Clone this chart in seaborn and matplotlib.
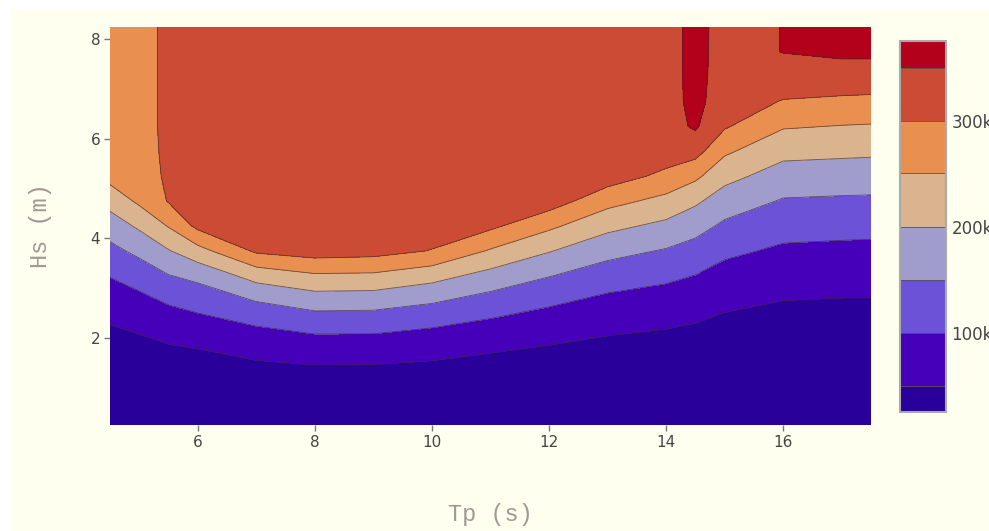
import numpy as np
import pandas as pd
import matplotlib
matplotlib.use("Agg")
import matplotlib.pyplot as plt
import seaborn as sns
from matplotlib.colors import ListedColormap, Normalize
from matplotlib.cm import ScalarMappable
from matplotlib.patches import Rectangle

# ---------------- data ----------------
tp = [4.5, 5.0, 5.5, 6, 7, 8, 9, 10, 11, 12, 13, 14, 14.5, 15, 16, 17, 17.5]
hs = [0.25, 0.75, 1.25, 1.75, 2.25, 2.75, 3.25, 3.75, 4.25,
      4.75, 5.25, 5.75, 6.25, 6.75, 7.25, 7.75, 8.25]

# power (thousands), one list per Tp column, ordered by hs
col_4_5 = [1, 5, 15, 30, 49, 73, 102, 136, 174, 218, 266, 285, 287, 288, 288, 289, 290]
col_5_0 = [1, 6, 18, 35, 58, 87, 121, 162, 208, 259, 291, 294, 295, 295, 295, 295, 295]
col_5_5 = [1, 8, 22, 43, 71, 106, 148, 197, 253, 303, 303, 303, 303, 303, 303, 303, 303]
col_6 = [1, 9, 24, 48, 82, 118, 163, 232, 312, 325, 328, 330, 330, 330, 330, 330, 330]
col_7 = [1, 11, 32, 62, 101, 152, 219, 308, 328, 331, 332, 333, 333, 333, 333, 333, 333]
col_8 = [1, 13, 36, 70, 116, 174, 243, 323, 333, 335, 335, 335, 335, 335, 335, 335, 335]
col_9 = [1, 13, 35, 70, 115, 172, 241, 318, 332, 334, 334, 334, 334, 334, 334, 334, 334]
col_10 = [1, 12, 32, 63, 104, 156, 218, 298, 325, 332, 332, 332, 332, 332, 332, 332, 332]
col_11 = [1, 10, 27, 53, 88, 131, 183, 245, 310, 328, 332, 332, 332, 332, 332, 332, 332]
col_12 = [1, 8, 22, 44, 73, 109, 152, 203, 260, 325, 332, 333, 333, 333, 333, 333, 333]
col_13 = [1, 7, 18, 36, 60, 89, 125, 166, 213, 266, 325, 333, 333, 333, 333, 333, 333]
col_14 = [1, 6, 16, 32, 53, 79, 110, 146, 188, 235, 287, 328, 332, 333, 333, 333, 333]
col_14_5 = [1, 5, 14, 28, 48, 72, 99, 131, 168, 208, 260, 318, 356, 362, 363, 363, 363]
col_15 = [0, 4, 12, 24, 40, 59, 82, 110, 141, 176, 215, 258, 305, 328, 332, 334, 335]
col_16 = [0, 4, 10, 20, 33, 50, 69, 92, 118, 146, 178, 214, 254, 297, 330, 351, 351]
col_17 = [0, 4, 10, 19, 32, 48, 67, 89, 115, 143, 175, 210, 248, 289, 335, 356, 358]
col_17_5 = [0, 4, 10, 19, 32, 48, 66, 88, 114, 142, 174, 208, 246, 286, 335, 356, 358]

levels = [50, 100, 150, 200, 250, 300, 350]
cbar_ticks = [100, 200, 300]
band_colors = ["#2a009b", "#4600ba", "#6b52d6", "#a09ccb", "#d9b48e",
               "#e98f50", "#cb4b35", "#b3001b"]

columns = [col_4_5, col_5_0, col_5_5, col_6, col_7, col_8, col_9, col_10, col_11,
           col_12, col_13, col_14, col_14_5, col_15, col_16, col_17, col_17_5]
df = pd.DataFrame(np.array(columns).T, index=hs, columns=tp)

# ---------------- figure ----------------
sns.set_theme(style="white")
bg = "#fffff0"
fig = plt.figure(figsize=(9.89, 5.31), dpi=100, facecolor=bg)
fig.patches.append(Rectangle((0, 1 - 9 / 531), 1, 9 / 531, transform=fig.transFigure,
                             facecolor="white", edgecolor="none", zorder=-1))
fig.patches.append(Rectangle((0, 0), 11 / 989, 1, transform=fig.transFigure,
                             facecolor="white", edgecolor="none", zorder=-1))

ax = fig.add_axes([110 / 989, 1 - 425 / 531, 761 / 989, 398 / 531])
ax.set_facecolor(bg)

X, Y = np.meshgrid(df.columns.values.astype(float), df.index.values.astype(float))
Z = df.values.astype(float)
fill_levels = [-1e6] + levels + [1e6]
ax.contourf(X, Y, Z, levels=fill_levels, colors=band_colors)
ax.contour(X, Y, Z, levels=levels, colors="#3a2a2a", linewidths=0.6, alpha=0.7)

ax.set_xlim(4.5, 17.5)
ax.set_ylim(0.25, 8.25)
ax.set_xticks([6, 8, 10, 12, 14, 16])
ax.set_yticks([2, 4, 6, 8])
for s in ax.spines.values():
    s.set_visible(False)
ax.tick_params(axis="both", which="both", length=4, width=1, color="#777777",
               labelsize=11, labelcolor="#444444", pad=3, direction="out",
               bottom=True, left=True)
for lab in ax.get_xticklabels() + ax.get_yticklabels():
    lab.set_family("DejaVu Sans")

ax.set_xlabel("Tp (s)", family="Liberation Mono", fontsize=17, color="#a09a95",
              labelpad=38)
ax.set_ylabel("Hs (m)", family="Liberation Mono", fontsize=17, color="#a09a95",
              labelpad=28)

# colorbar
cax = fig.add_axes([900 / 989, 1 - 412 / 531, 46 / 989, 371 / 531])
bounds = [25] + levels + [375]
cmap = ListedColormap(band_colors)
norm = Normalize(vmin=25, vmax=375)
cb = fig.colorbar(ScalarMappable(norm=norm, cmap=cmap), cax=cax, ticks=cbar_ticks,
                  boundaries=bounds, values=[37.5, 75, 125, 175, 225, 275, 325, 362.5],
                  spacing="proportional", drawedges=True)
cb.dividers.set_color("#555555")
cb.dividers.set_linewidth(0.6)
cb.outline.set_edgecolor("#aaaaaa")
cb.outline.set_linewidth(1.5)
cb.set_ticklabels([f"{t}k" for t in cbar_ticks])
cax.minorticks_off()
cax.tick_params(which="both", length=0, labelsize=12, labelcolor="#444444", pad=4)
for lab in cax.get_yticklabels():
    lab.set_family("DejaVu Sans")

fig.savefig("out.png", dpi=100, facecolor=fig.get_facecolor())
